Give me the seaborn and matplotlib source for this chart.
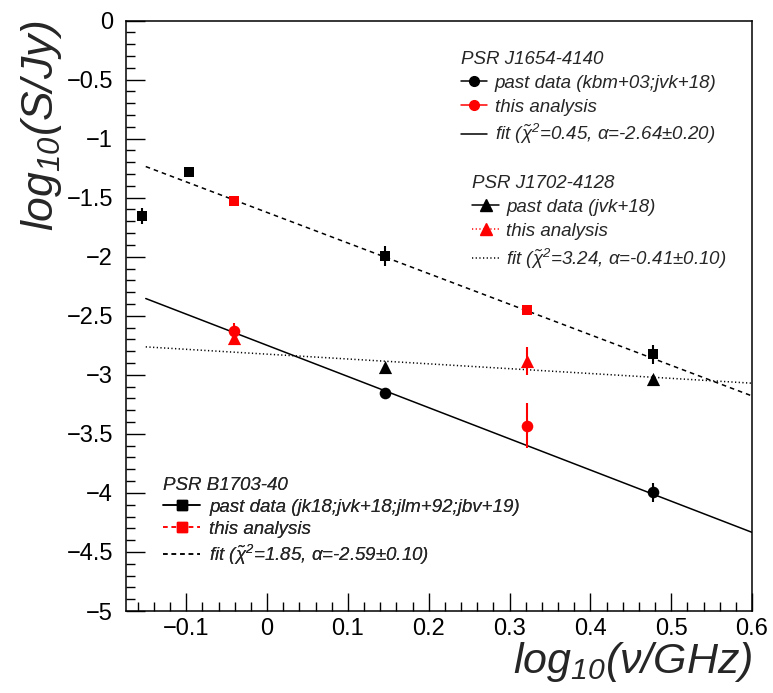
import numpy as np
import pandas as pd
import matplotlib
matplotlib.use("Agg")
import matplotlib.pyplot as plt
from matplotlib.lines import Line2D
from matplotlib.ticker import MultipleLocator, FuncFormatter
import seaborn as sns

# ---- PSR B1703-40 (squares, dashed fit) ----
b1703_past_x = [-0.155, -0.097, 0.146, 0.477]
b1703_past_y = [-1.655, -1.285, -1.995, -2.825]
b1703_past_err = [0.07, 0.035, 0.085, 0.08]
b1703_this_x = [-0.041, 0.322]
b1703_this_y = [-1.530, -2.450]
b1703_this_err = [0.03, 0.03]
b1703_alpha = -2.59
b1703_norm = -1.625

# ---- PSR J1654-4140 (circles, solid fit) ----
j1654_past_x = [0.146, 0.477]
j1654_past_y = [-3.150, -3.995]
j1654_past_err = [0.03, 0.08]
j1654_this_x = [-0.041, 0.322]
j1654_this_y = [-2.625, -3.430]
j1654_this_err = [0.06, 0.19]
j1654_alpha = -2.64
j1654_norm = -2.750

# ---- PSR J1702-4128 (triangles, dotted fit) ----
j1702_past_x = [0.146, 0.477]
j1702_past_y = [-2.935, -3.035]
j1702_past_err = [0.03, 0.03]
j1702_this_x = [-0.041, 0.322]
j1702_this_y = [-2.690, -2.885]
j1702_this_err = [0.05, 0.12]
j1702_alpha = -0.41
j1702_norm = -2.825

fit_range = [-0.15, 0.60]

DASHED = (0, (3.0, 2.6))
DOTTED = (0, (0.8, 1.6))

sns.set_style("ticks")
plt.rcParams.update({
    "font.family": ["Liberation Sans", "DejaVu Sans"],
    "mathtext.fontset": "custom",
    "mathtext.rm": "Liberation Sans:italic",
    "mathtext.it": "Liberation Sans:italic",
    "mathtext.bf": "Liberation Sans:bold:italic",
    "mathtext.sf": "Liberation Sans:italic",
    "axes.edgecolor": "black",
    "axes.linewidth": 1.1,
    "xtick.color": "black",
    "ytick.color": "black",
})

fig = plt.figure(figsize=(7.73, 6.93), dpi=100)
ax = fig.add_axes([0.1624, 0.1183, 0.8105, 0.8521])


def fit_line(norm, alpha, ls):
    xs = np.array(fit_range)
    df = pd.DataFrame({"x": xs, "y": norm + alpha * xs})
    sns.lineplot(data=df, x="x", y="y", ax=ax, color="black", lw=1.1,
                 linestyle=ls, zorder=2, legend=False)


fit_line(j1654_norm, j1654_alpha, "-")
fit_line(j1702_norm, j1702_alpha, DOTTED)
fit_line(b1703_norm, b1703_alpha, DASHED)


def points(xs, ys, errs, color, marker, size, z):
    ax.errorbar(xs, ys, yerr=errs, fmt="none", ecolor=color, elinewidth=1.5,
                capsize=0, zorder=z)
    df = pd.DataFrame({"x": xs, "y": ys})
    sns.scatterplot(data=df, x="x", y="y", ax=ax, color=color, marker=marker,
                    s=size, edgecolor=color, linewidth=0, zorder=z + 0.5,
                    legend=False)


points(b1703_past_x, b1703_past_y, b1703_past_err, "black", "s", 52, 3)
points(j1654_past_x, j1654_past_y, j1654_past_err, "black", "o", 70, 3)
points(j1702_past_x, j1702_past_y, j1702_past_err, "black", "^", 90, 3)
points(b1703_this_x, b1703_this_y, b1703_this_err, "red", "s", 52, 5)
points(j1702_this_x, j1702_this_y, j1702_this_err, "red", "^", 90, 5)
points(j1654_this_x, j1654_this_y, j1654_this_err, "red", "o", 70, 6)

ax.set_xlim(-0.175, 0.6)
ax.set_ylim(-5, 0)
ax.xaxis.set_major_locator(MultipleLocator(0.1))
ax.xaxis.set_minor_locator(MultipleLocator(0.02))
ax.yaxis.set_major_locator(MultipleLocator(0.5))
ax.yaxis.set_minor_locator(MultipleLocator(0.1))


def fmt(v, _pos):
    if abs(v) < 1e-9:
        return "0"
    return ("%g" % round(v, 3)).replace("-", "\u2212")


ax.xaxis.set_major_formatter(FuncFormatter(fmt))
ax.yaxis.set_major_formatter(FuncFormatter(fmt))
ax.tick_params(which="both", direction="in", top=False, right=False,
               width=1.0, colors="black")
ax.tick_params(axis="x", which="major", length=12.7, labelsize=17, pad=5)
ax.tick_params(axis="x", which="minor", length=6.4)
ax.tick_params(axis="y", which="major", length=13.5, labelsize=17, pad=9)
ax.tick_params(axis="y", which="minor", length=6.8)
for s in ax.spines.values():
    s.set_visible(True)
    s.set_linewidth(1.1)
    s.set_color("black")

ax.set_xlabel(r"$log_{10}(\nu/GHz)$", fontsize=31, loc="right", labelpad=0)
ax.set_ylabel(r"$log_{10}(S/Jy)$", fontsize=32, loc="top", labelpad=2)

legend_prop = {"style": "italic", "size": 13.5}


def legend_block(handles, labels, title, x_px, y_px, hl, htp, ls, bp):
    leg = ax.legend(handles, labels, title=title, loc="upper left",
                    bbox_to_anchor=(x_px / 773, 1 - y_px / 693),
                    bbox_transform=fig.transFigure, frameon=False,
                    prop=legend_prop, title_fontproperties=legend_prop,
                    alignment="left", handlelength=hl, handletextpad=htp,
                    labelspacing=ls, borderpad=bp, borderaxespad=0)
    ax.add_artist(leg)


legend_block(
    [Line2D([], [], color="black", lw=1.1, marker="o", ms=7),
     Line2D([], [], color="red", lw=1.1, marker="o", ms=7),
     Line2D([], [], color="black", lw=1.1)],
    ["past data (kbm+03;jvk+18)", "this analysis",
     r"fit ($\tilde{\chi}^{2}$=0.45, α=-2.64±0.20)"],
    "PSR J1654-4140", 457, 47, 1.4, 0.42, 0.36, 0.2)

legend_block(
    [Line2D([], [], color="black", lw=1.1, marker="^", ms=8),
     Line2D([], [], color="red", lw=1.1, ls=DOTTED, marker="^", ms=8),
     Line2D([], [], color="black", lw=1.1, ls=DOTTED)],
    ["past data (jvk+18)", "this analysis",
     r"fit ($\tilde{\chi}^{2}$=3.24, α=-0.41±0.10)"],
    "PSR J1702-4128", 472, 175, 1.45, 0.38, 0.36, 0.0)

legend_block(
    [Line2D([], [], color="black", lw=1.1, marker="s", ms=6.5),
     Line2D([], [], color="red", lw=1.1, ls=DASHED, marker="s", ms=6.5),
     Line2D([], [], color="black", lw=1.1, ls=DASHED)],
    ["past data (jk18;jvk+18;jlm+92;jbv+19)", "this analysis",
     r"fit ($\tilde{\chi}^{2}$=1.85, α=-2.59±0.10)"],
    "PSR B1703-40", 160, 474, 2.0, 0.48, 0.26, 0.15)

fig.savefig("out.png", dpi=100, facecolor="white")
